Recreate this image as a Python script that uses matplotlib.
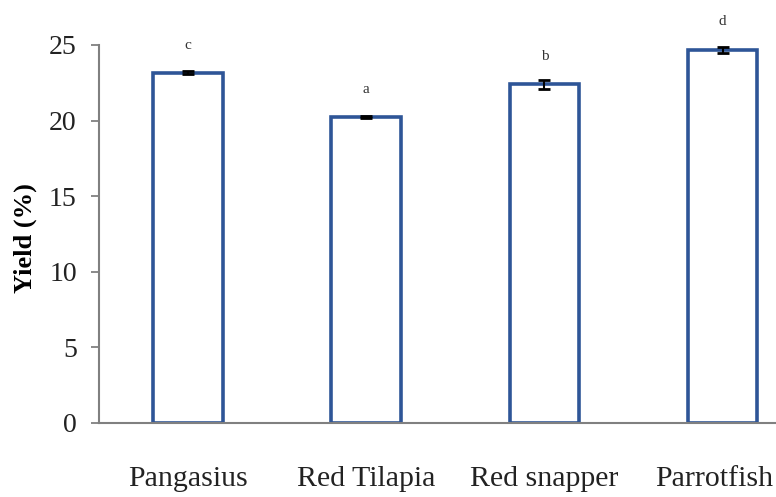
import numpy as np
import matplotlib.pyplot as plt
import matplotlib.transforms as mtransforms

# fish species yield data
species = ["Pangasius", "Red Tilapia", "Red snapper", "Parrotfish"]
yield_pct = [23.15, 20.25, 22.4, 24.7]
yield_err = [0.1, 0.08, 0.3, 0.2]
letters = ["c", "a", "b", "d"]

plt.rcParams['font.family'] = ['Liberation Serif', 'DejaVu Serif']

fig = plt.figure(figsize=(7.76, 4.97), dpi=100)
ax = fig.add_axes([99/776, (497-423)/497, (776-99)/776, (423-45)/497])

x = np.arange(len(species))
ax.bar(x, yield_pct, width=0.39, color='white', edgecolor='#2E5597', linewidth=2.6, zorder=2)
ax.errorbar(x, yield_pct, yerr=yield_err, fmt='none', ecolor='black', elinewidth=1.5,
            capsize=4, capthick=2, zorder=3)

for xi, v, lt in zip(x, yield_pct, letters):
    ax.annotate(lt, (xi, v), xytext=(0, 20), textcoords='offset points',
                ha='center', va='center', fontsize=11, color='#333333', annotation_clip=False)

ax.set_xlim(-0.5, 3.3)
ax.set_ylim(0, 25)
ax.set_yticks([0, 5, 10, 15, 20, 25])
ax.set_xticks(x)
ax.set_xticklabels(species, fontsize=21.5, color='#222222')
ax.tick_params(axis='x', length=0, pad=31)
ax.tick_params(axis='y', length=6, width=1.3, color='#808080', labelsize=20, labelcolor='#222222', pad=10)
ax.set_ylabel("Yield (%)", fontsize=19, fontweight='bold')
ax.yaxis.set_label_coords(-0.092, 0.49)

# the last label sits against the cropped right edge
lbl = ax.get_xticklabels()[-1]
lbl.set_transform(lbl.get_transform() + mtransforms.ScaledTranslation(-8/100, 0, fig.dpi_scale_trans))

for s in ['top', 'right']:
    ax.spines[s].set_visible(False)
for s in ['left', 'bottom']:
    ax.spines[s].set_color('#808080')
    ax.spines[s].set_linewidth(1.5)

plt.savefig("out.png", dpi=100)
